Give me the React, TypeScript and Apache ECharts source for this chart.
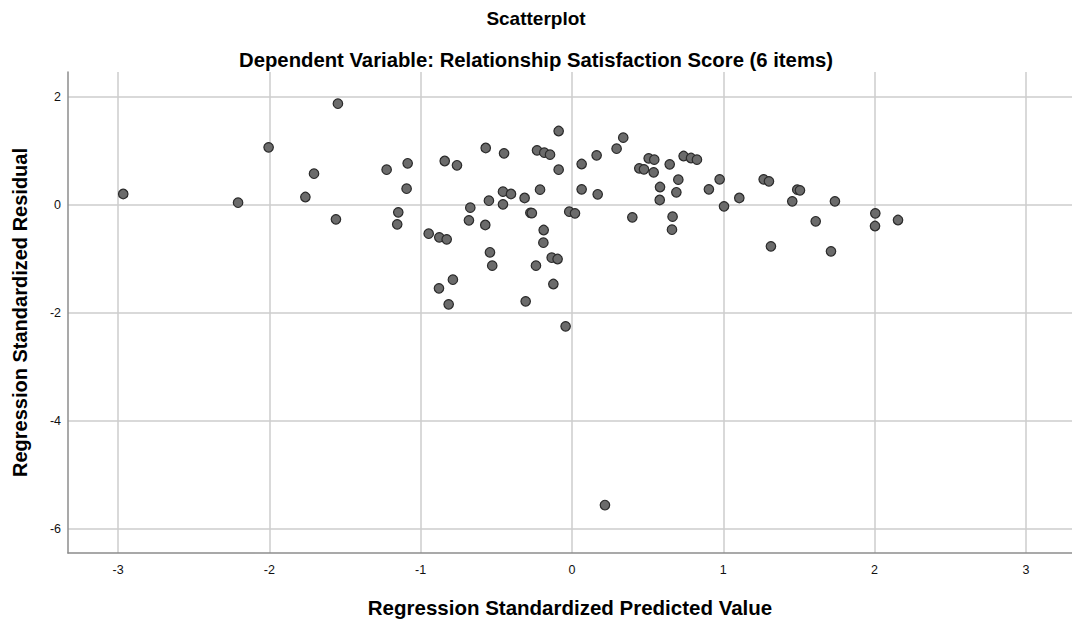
import React, { useEffect, useRef } from "react";
import * as echarts from "echarts";

const predicted: number[] = [
  -2.966, -2.207, -2.005, -1.547, -1.705, -1.762, -1.56, -1.225, -1.086, -1.093,
  -1.148, -1.155, -0.841, -0.76, -0.57, -0.449, -0.672, -0.681, -0.549, -0.573,
  -0.456, -0.403, -0.456, -0.313, -0.275, -0.265, -0.211, -0.231, -0.183, -0.145,
  -0.088, -0.088, -0.187, -0.189, -0.134, -0.095, -0.018, 0.02, -0.947, -0.877,
  -0.828, -0.542, -0.527, -0.238, -0.787, -0.879, -0.815, -0.123, -0.306, -0.042,
  0.064, 0.163, 0.295, 0.339, 0.064, 0.17, 0.399, 0.507, 0.544, 0.445,
  0.476, 0.54, 0.646, 0.738, 0.787, 0.826, 0.703, 0.582, 0.69, 0.58,
  0.905, 0.976, 0.665, 0.661, 1.005, 1.106, 1.267, 1.302, 1.489, 1.507,
  1.456, 1.738, 1.611, 1.315, 1.712, 2.005, 2.003, 2.155, 0.218,
];

const residual: number[] = [
  0.204, 0.043, 1.068, 1.876, 0.58, 0.148, -0.265, 0.654, 0.772, 0.302,
  -0.136, -0.358, 0.815, 0.735, 1.056, 0.957, -0.049, -0.284, 0.08, -0.37,
  0.247, 0.204, 0.012, 0.13, -0.145, -0.15, 0.284, 1.012, 0.969, 0.932,
  1.37, 0.654, -0.463, -0.698, -0.976, -1.0, -0.123, -0.154, -0.531, -0.599,
  -0.636, -0.876, -1.123, -1.123, -1.383, -1.543, -1.84, -1.463, -1.784, -2.247,
  0.759, 0.92, 1.043, 1.247, 0.29, 0.198, -0.228, 0.864, 0.84, 0.679,
  0.66, 0.605, 0.753, 0.907, 0.87, 0.84, 0.469, 0.333, 0.235, 0.093,
  0.29, 0.475, -0.216, -0.457, -0.025, 0.13, 0.475, 0.438, 0.284, 0.272,
  0.068, 0.068, -0.302, -0.765, -0.858, -0.154, -0.389, -0.278, -5.556,
];

const xTicks: number[] = [-3, -2, -1, 0, 1, 2, 3];
const yTicks: number[] = [-6, -4, -2, 0, 2];

const titleText = "Scatterplot";
const subtitleText = "Dependent Variable: Relationship Satisfaction Score (6 items)";
const xName = "Regression Standardized Predicted Value";
const yName = "Regression Standardized Residual";

const FONT = "'Liberation Sans', Arial, sans-serif";

export default function App() {
  const ref = useRef<HTMLDivElement>(null);
  useEffect(() => {
    if (!ref.current) return;
    const chart = echarts.init(ref.current, null, { renderer: "svg" });
    const data = predicted.map((x, i) => [x, residual[i]]);
    chart.setOption({
      animation: false,
      backgroundColor: "#ffffff",
      title: [
        {
          text: titleText,
          left: "center",
          top: 4,
          textStyle: { fontFamily: FONT, fontSize: 19, fontWeight: "bold", color: "#000" },
        },
        {
          text: subtitleText,
          left: "center",
          top: 45,
          textStyle: { fontFamily: FONT, fontSize: 20.3, fontWeight: "bold", color: "#000" },
        },
      ],
      grid: { left: 68, top: 72, right: 0, bottom: 73, containLabel: false },
      xAxis: {
        type: "value",
        min: -3.331,
        max: 3.305,
        name: xName,
        nameLocation: "middle",
        nameGap: 44,
        nameTextStyle: { fontFamily: FONT, fontSize: 20.5, fontWeight: "bold", color: "#000" },
        axisLine: { show: true, onZero: false, lineStyle: { color: "#8c8c8c", width: 1.5 } },
        axisTick: { show: false, customValues: xTicks },
        axisLabel: { customValues: xTicks, fontFamily: FONT, fontSize: 12.5, color: "#111", margin: 10 },
        splitLine: { show: true, lineStyle: { color: "#cccccc", width: 1.5 } },
      },
      yAxis: {
        type: "value",
        min: -6.444,
        max: 2.463,
        name: yName,
        nameLocation: "middle",
        nameGap: 38,
        nameRotate: 90,
        nameTextStyle: { fontFamily: FONT, fontSize: 20, fontWeight: "bold", color: "#000" },
        axisLine: { show: true, onZero: false, lineStyle: { color: "#8c8c8c", width: 1.5 } },
        axisTick: { show: false, customValues: yTicks },
        axisLabel: { customValues: yTicks, fontFamily: FONT, fontSize: 12.5, color: "#111", margin: 7 },
        splitLine: { show: true, lineStyle: { color: "#cccccc", width: 1.5 } },
      },
      series: [
        {
          type: "scatter",
          data,
          symbol: "circle",
          symbolSize: 9.5,
          itemStyle: { color: "#6b6b6b", borderColor: "#2a2a2a", borderWidth: 1.2, opacity: 1 },
        },
      ],
    });
    return () => chart.dispose();
  }, []);
  return (
    <div
      ref={ref}
      style={{ position: "absolute", left: 0, top: 0, width: 1072, height: 626, background: "#fff" }}
    />
  );
}
